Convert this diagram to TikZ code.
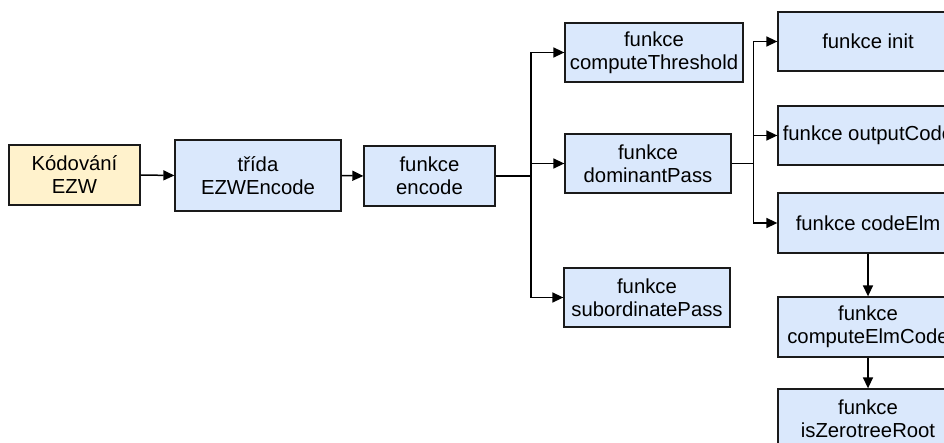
\documentclass[tikz,border=0pt]{standalone}
\usepackage{fontspec}
\setmainfont{Liberation Sans}
\usetikzlibrary{arrows.meta}
\definecolor{boxblue}{HTML}{DAE8FC}
\definecolor{boxyellow}{HTML}{FFF2CC}
\definecolor{edge}{HTML}{1A1A1A}
\tikzset{
  box/.style={draw=edge, line width=1.3pt, fill=boxblue, inner sep=0pt,
    align=center, font=\fontsize{20.3}{23}\selectfont},
  startbox/.style={box, fill=boxyellow},
  link/.style={draw=black, line width=1.5pt},
  arrowlink/.style={link, -{Triangle[length=11pt,width=10pt]}}
}
\begin{document}
\begin{tikzpicture}[x=1pt,y=-1pt]
\useasboundingbox (0,0) rectangle (944,443);
\clip (0,0) rectangle (944,443);

% left part of the call graph
\node[startbox, minimum width=131pt, minimum height=60pt] (kod) at (74.5,175) {Kódování\\EZW};
\node[box, minimum width=166pt, minimum height=71pt] (trida) at (258,175.5) {třída\\EZWEncode};
\node[box, minimum width=131pt, minimum height=60pt] (enc) at (429.5,176) {funkce\\encode};

% functions called from encode
\node[box, minimum width=178pt, minimum height=59pt] (thr) at (654,52.5) {funkce\\computeThreshold};
\node[box, minimum width=166pt, minimum height=59pt] (dom) at (648,163.5) {funkce\\dominantPass};
\node[box, minimum width=166pt, minimum height=59pt] (sub) at (647,297.5) {funkce\\subordinatePass};

% functions called from dominantPass
\node[box, minimum width=180pt, minimum height=59pt] (init) at (868,41.5) {funkce init};
\node[box, minimum width=180pt, minimum height=59pt] (out) at (868,135.5) {funkce outputCode};
\node[box, minimum width=180pt, minimum height=60pt] (cel) at (868,223) {funkce codeElm};
\node[box, minimum width=180pt, minimum height=60pt] (cec) at (868,327) {funkce\\computeElmCode};
\node[box, minimum width=180pt, minimum height=60pt] (zr) at (868,419) {funkce\\isZerotreeRoot};

% branch points
\coordinate (j1) at (531,176);
\coordinate (j2) at (753.5,163.5);

% connectors
\draw[arrowlink] (kod.east) -- (trida.west);
\draw[arrowlink] (trida.east) -- (enc.west);
\draw[link] (enc.east) -- (j1);
\draw[arrowlink] (j1) |- (thr.west);
\draw[arrowlink] (j1) |- (dom.west);
\draw[arrowlink] (j1) |- (sub.west);

\draw[link] (dom.east) -- (j2);
\draw[arrowlink] (j2) |- (init.west);
\draw[arrowlink] (j2) |- (out.west);
\draw[arrowlink] (j2) |- (cel.west);

\draw[arrowlink] (cel.south) -- (cec.north);
\draw[arrowlink] (cec.south) -- (zr.north);
\end{tikzpicture}
\end{document}
